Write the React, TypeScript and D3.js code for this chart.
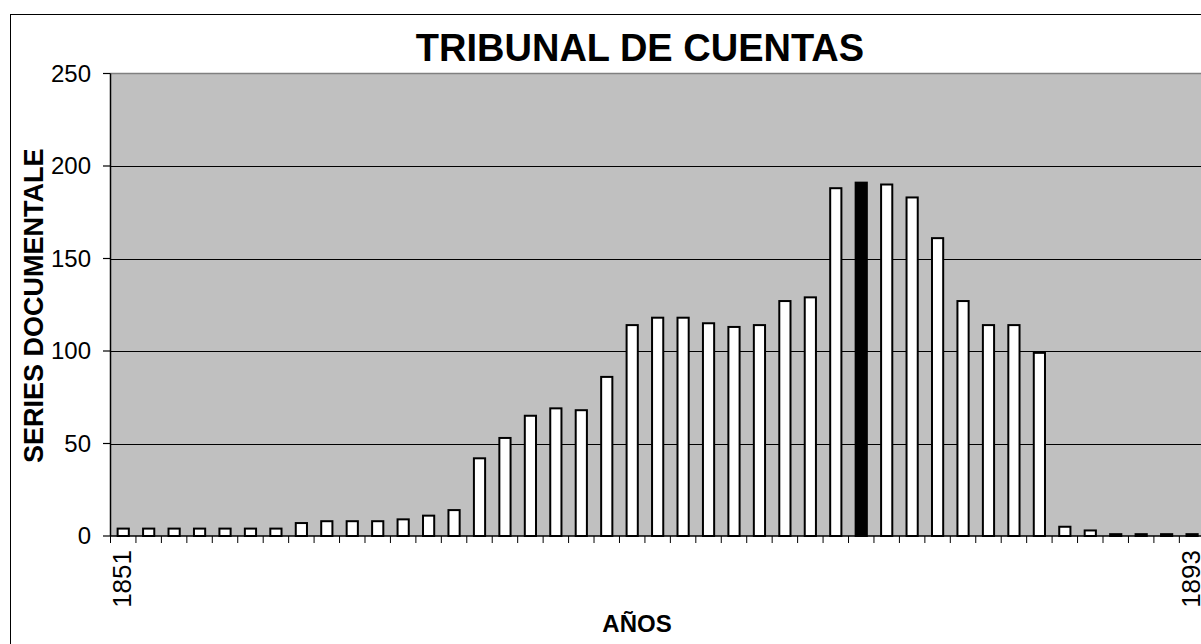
import React from "react";
import * as d3 from "d3";

// years on the x axis (1851 .. 1893)
const years = [
  1851, 1852, 1853, 1854, 1855, 1856, 1857, 1858, 1859, 1860,
  1861, 1862, 1863, 1864, 1865, 1866, 1867, 1868, 1869, 1870,
  1871, 1872, 1873, 1874, 1875, 1876, 1877, 1878, 1879, 1880,
  1881, 1882, 1883, 1884, 1885, 1886, 1887, 1888, 1889, 1890,
  1891, 1892, 1893,
];

// number of documentary series per year
const series = [
  4, 4, 4, 4, 4, 4, 4, 7, 8, 8,
  8, 9, 11, 14, 42, 53, 65, 69, 68, 86,
  114, 118, 118, 115, 113, 114, 127, 129, 188, 191,
  190, 183, 161, 127, 114, 114, 99, 5, 3, 1,
  1, 1, 1,
];

const highlightYear = 1880;
const yTicks = [0, 50, 100, 150, 200, 250];
const xTickLabels = [1851, 1893];

const FONT = "'Liberation Sans', Arial, Helvetica, sans-serif";

const W = 1201;
const H = 644;
const plot = { left: 110.5, right: 1204.8, top: 73.5, bottom: 536 };

function App() {
  const x = d3
    .scaleBand<number>()
    .domain(years)
    .range([plot.left, plot.right])
    .paddingInner(0.56)
    .paddingOuter(0.28);

  const y = d3.scaleLinear().domain([0, 250]).range([plot.bottom, plot.top]);

  const step = x.step();
  const boundaries = d3.range(years.length + 1).map((i) => plot.left + i * step);

  return (
    <svg
      width={W}
      height={H}
      style={{ position: "absolute", left: 0, top: 0, background: "#fff" }}
      fontFamily={FONT}
    >
      <defs>
        <clipPath id="ytitle-clip">
          <rect x={0} y={148} width={80} height={400} />
        </clipPath>
      </defs>

      {/* chart border */}
      <rect x={10.5} y={14.5} width={1280} height={700} fill="#fff" stroke="#000" strokeWidth={1} />

      {/* plot area */}
      <rect
        x={plot.left}
        y={plot.top}
        width={plot.right - plot.left + 10}
        height={plot.bottom - plot.top}
        fill="#c0c0c0"
      />
      <line x1={plot.left} x2={W} y1={plot.top} y2={plot.top} stroke="#808080" strokeWidth={1.5} />

      {/* gridlines */}
      {yTicks
        .filter((t) => t > 0 && t < 250)
        .map((t) => (
          <line
            key={t}
            x1={plot.left}
            x2={W}
            y1={Math.round(y(t)) + 0.5}
            y2={Math.round(y(t)) + 0.5}
            stroke="#000"
            strokeWidth={1}
          />
        ))}

      {/* bars */}
      {years.map((yr, i) => (
        <rect
          key={yr}
          x={x(yr)}
          y={y(series[i])}
          width={x.bandwidth()}
          height={plot.bottom - y(series[i])}
          fill={yr === highlightYear ? "#000" : "#fff"}
          stroke="#000"
          strokeWidth={2}
        />
      ))}

      {/* y axis */}
      <line x1={plot.left} x2={plot.left} y1={plot.top} y2={plot.bottom} stroke="#000" strokeWidth={1.5} />
      {yTicks.map((t) => (
        <g key={t}>
          <line x1={103} x2={plot.left} y1={y(t)} y2={y(t)} stroke="#000" strokeWidth={1.2} />
          <text x={91} y={y(t)} dy="0.35em" textAnchor="end" fontSize={24} fill="#000">
            {t}
          </text>
        </g>
      ))}

      {/* x axis */}
      <line x1={plot.left} x2={W} y1={plot.bottom} y2={plot.bottom} stroke="#000" strokeWidth={1.5} />
      {boundaries.map((b, i) => (
        <line key={i} x1={b} x2={b} y1={plot.bottom} y2={plot.bottom + 7} stroke="#000" strokeWidth={1} />
      ))}
      {xTickLabels.map((yr) => {
        const cx = (x(yr) ?? 0) + x.bandwidth() / 2;
        return (
          <text
            key={yr}
            transform={`translate(${cx + 8},${plot.bottom + 14}) rotate(-90)`}
            textAnchor="end"
            fontSize={26}
            fill="#000"
          >
            {yr}
          </text>
        );
      })}

      {/* titles */}
      <text x={640} y={61} textAnchor="middle" fontSize={38} fontWeight="bold" fill="#000">
        TRIBUNAL DE CUENTAS
      </text>
      <text x={637} y={632} textAnchor="middle" fontSize={24} fontWeight="bold" fill="#000">
        AÑOS
      </text>
      <g clipPath="url(#ytitle-clip)">
        <text
          transform="translate(43,463) rotate(-90)"
          textAnchor="start"
          fontSize={27}
          fontWeight="bold"
          fill="#000"
        >
          SERIES DOCUMENTALES
        </text>
      </g>
    </svg>
  );
}

export default App;
